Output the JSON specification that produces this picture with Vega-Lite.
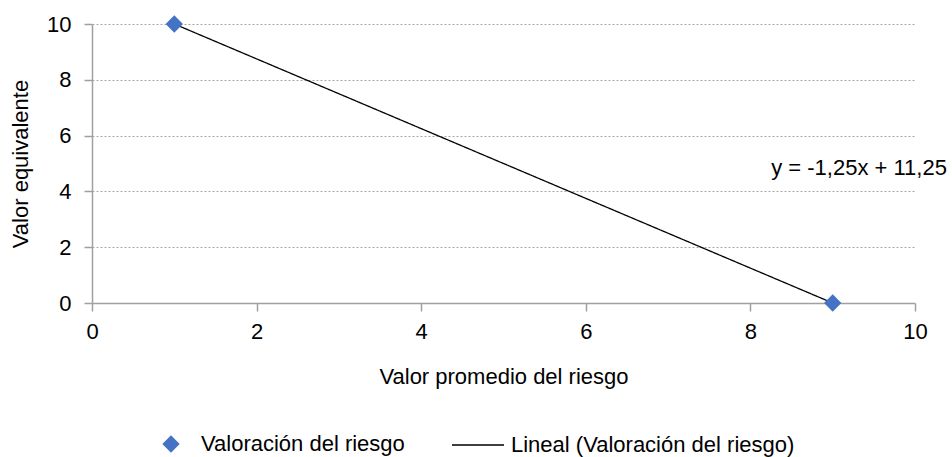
{
  "$schema": "https://vega.github.io/schema/vega-lite/v6.json",
  "width": 823,
  "height": 279,
  "autosize": "none",
  "padding": {"left": 92, "top": 24, "right": 37, "bottom": 154},
  "background": "white",
  "config": {
    "view": {"stroke": null},
    "font": "Liberation Sans",
    "axis": {
      "labelFont": "Liberation Sans",
      "titleFont": "Liberation Sans",
      "labelFontSize": 22,
      "titleFontSize": 22,
      "titleFontWeight": "normal",
      "labelColor": "#000000",
      "titleColor": "#000000",
      "domainColor": "#A0A0A0",
      "tickColor": "#A0A0A0",
      "tickSize": 8,
      "domainWidth": 1.5,
      "tickWidth": 1.5
    },
    "legend": {
      "labelFont": "Liberation Sans",
      "labelFontSize": 22,
      "labelColor": "#000000",
      "labelLimit": 0
    }
  },
  "datasets": {
    "puntos": [
      {"x": 1, "y": 10, "serie": "Valoración del riesgo"},
      {"x": 9, "y": 0, "serie": "Valoración del riesgo"}
    ],
    "tendencia": [
      {"x": 1, "y": 10, "serie": "Lineal (Valoración del riesgo)"},
      {"x": 9, "y": 0, "serie": "Lineal (Valoración del riesgo)"}
    ],
    "ecuacion": [
      {"x": 9.32, "y": 4.84, "texto": "y = -1,25x + 11,25"}
    ]
  },
  "layer": [
    {
      "data": {"name": "tendencia"},
      "mark": {"type": "line", "color": "#000000", "strokeWidth": 1.3, "clip": false},
      "encoding": {
        "x": {
          "field": "x", "type": "quantitative",
          "scale": {"domain": [0, 10], "nice": false},
          "axis": {
            "values": [0, 2, 4, 6, 8, 10],
            "format": "d",
            "grid": false,
            "title": "Valor promedio del riesgo",
            "titlePadding": 24,
            "labelPadding": 10,
            "labelFlush": false
          }
        },
        "y": {
          "field": "y", "type": "quantitative",
          "scale": {"domain": [0, 10], "nice": false},
          "axis": {
            "values": [0, 2, 4, 6, 8, 10],
            "format": "d",
            "grid": true,
            "gridColor": "#A6A6A6",
            "gridDash": [2, 2],
            "gridWidth": 1,
            "title": "Valor equivalente",
            "titlePadding": 14,
            "labelPadding": 13,
            "labelFlush": false
          }
        },
        "strokeDash": {
          "field": "serie", "type": "nominal",
          "scale": {"domain": ["Lineal (Valoración del riesgo)"], "range": [[1, 0]]},
          "legend": {
            "orient": "none",
            "legendX": 359,
            "legendY": 394,
            "title": null,
            "symbolType": "stroke",
            "symbolSize": 2704,
            "symbolStrokeColor": "#000000",
            "symbolStrokeWidth": 1.3,
            "labelOffset": 6
          }
        }
      }
    },
    {
      "data": {"name": "puntos"},
      "mark": {"type": "point", "filled": true, "color": "#4472C4", "opacity": 1, "size": 300, "clip": false},
      "encoding": {
        "x": {"field": "x", "type": "quantitative"},
        "y": {"field": "y", "type": "quantitative"},
        "shape": {
          "field": "serie", "type": "nominal",
          "scale": {"domain": ["Valoración del riesgo"], "range": ["diamond"]},
          "legend": {
            "orient": "none",
            "legendX": 68,
            "legendY": 409,
            "title": null,
            "symbolSize": 300,
            "symbolFillColor": "#4472C4",
            "symbolStrokeColor": "#4472C4",
            "symbolOpacity": 1,
            "labelOffset": 19
          }
        }
      }
    },
    {
      "data": {"name": "ecuacion"},
      "mark": {"type": "text", "fontSize": 22, "font": "Liberation Sans", "color": "#000000", "align": "center", "baseline": "middle", "clip": false},
      "encoding": {
        "x": {"field": "x", "type": "quantitative"},
        "y": {"field": "y", "type": "quantitative"},
        "text": {"field": "texto"}
      }
    }
  ]
}
